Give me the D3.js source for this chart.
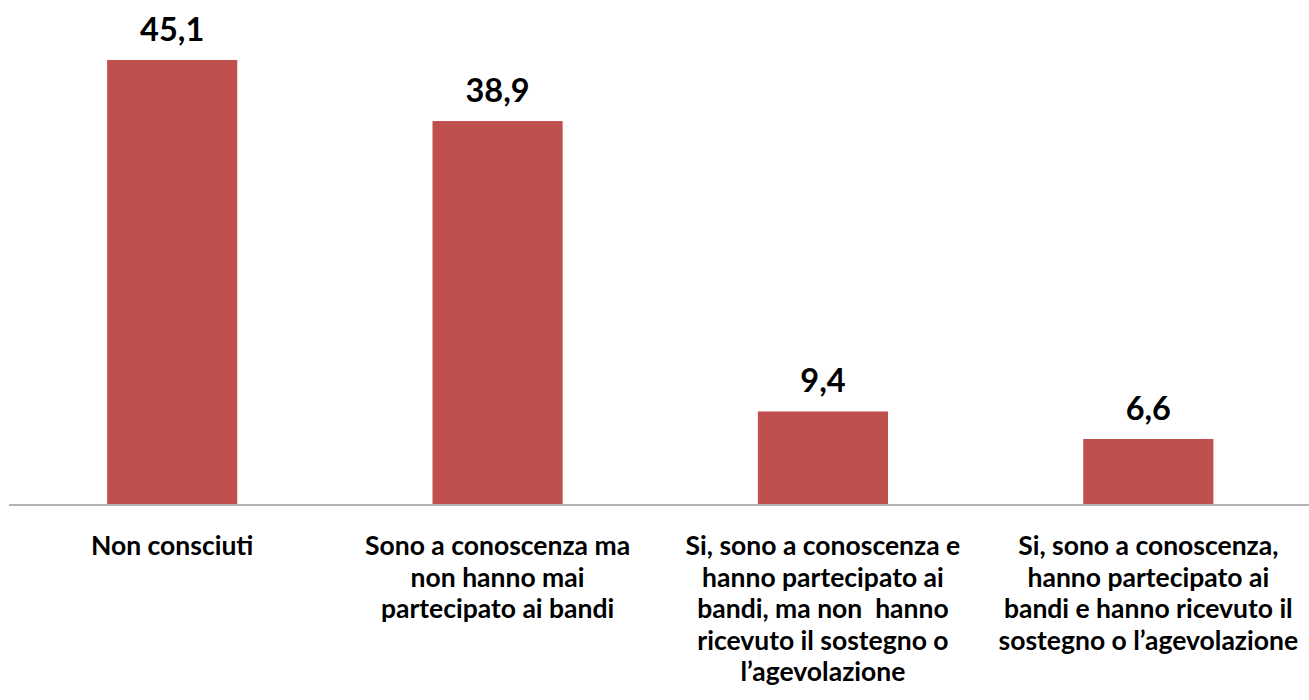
<!DOCTYPE html>
<html><head><meta charset="utf-8">
<script src="https://cdn.jsdelivr.net/npm/d3@7"></script>
<style>body{margin:0;background:#fff}svg{display:block}</style>
</head><body>
<svg id="c" width="1309" height="700"></svg>
<script>
const categories = ["c1","c2","c3","c4"];
const categoryLines = [
  ["Non consciuti"],
  ["Sono a conoscenza ma","non hanno mai","partecipato ai bandi"],
  ["Si, sono a conoscenza e","hanno partecipato ai","bandi, ma non  hanno","ricevuto il sostegno o","l\u2019agevolazione"],
  ["Si, sono a conoscenza,","hanno partecipato ai","bandi e hanno ricevuto il","sostegno o l\u2019agevolazione"]
];
const values = [45.1, 38.9, 9.4, 6.6];
const valueLabels = ["45,1","38,9","9,4","6,6"];

const svg = d3.select("#c");
const font = "Lato, 'Open Sans', sans-serif";
const baseY = 504;
const x = d3.scaleBand().domain(categories).range([9.5, 1311]).paddingInner(0.6).paddingOuter(0.3);
const y = d3.scaleLinear().domain([0, 45.1]).range([baseY, 60]);

svg.selectAll("rect.bar").data(values).join("rect")
  .attr("class","bar")
  .attr("x",(d,i)=>x(categories[i]))
  .attr("width",x.bandwidth())
  .attr("y",d=>y(d))
  .attr("height",d=>baseY-y(d))
  .attr("fill","#C0504D");

svg.append("line").attr("x1",9).attr("x2",1309).attr("y1",baseY+1).attr("y2",baseY+1)
  .attr("stroke","#9a9a9a").attr("stroke-width",1.5);

svg.selectAll("text.val").data(values).join("text")
  .attr("class","val")
  .attr("x",(d,i)=>x(categories[i])+x.bandwidth()/2)
  .attr("y",d=>y(d)-19)
  .attr("text-anchor","middle")
  .attr("font-family",font).attr("font-weight","bold").attr("font-size",32.5)
  .text((d,i)=>valueLabels[i]);

const g = svg.selectAll("text.cat").data(categoryLines).join("text")
  .attr("class","cat")
  .attr("text-anchor","middle")
  .style("white-space","pre")
  .attr("font-family",font).attr("font-weight","bold").attr("font-size",26.5)
  .attr("fill","#000");
g.each(function(lines,i){
  const cx = x(categories[i])+x.bandwidth()/2;
  d3.select(this).selectAll("tspan").data(lines).join("tspan")
    .attr("x",cx).attr("y",(d,j)=>555+j*31.5).text(d=>d);
});
</script>
</body></html>
